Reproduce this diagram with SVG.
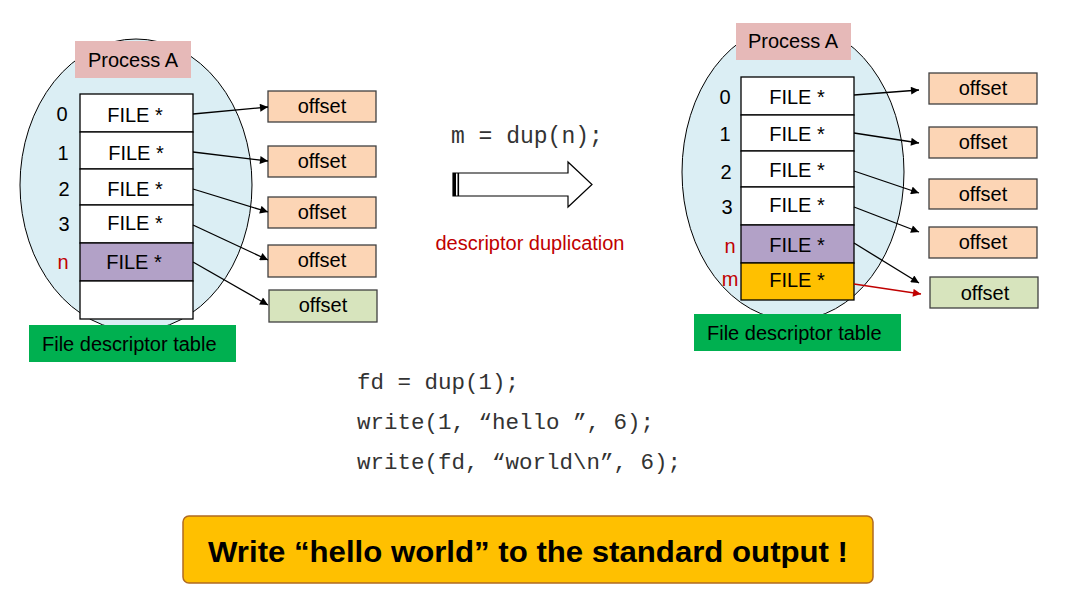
<svg xmlns="http://www.w3.org/2000/svg" width="1066" height="600" viewBox="0 0 1066 600">
<defs>
<marker id="ah" viewBox="0 0 10 10" refX="10" refY="5" markerWidth="10" markerHeight="8" markerUnits="userSpaceOnUse" orient="auto"><path d="M0,0 L10,5 L0,10 z" fill="#000"/></marker>
<marker id="ahr" viewBox="0 0 10 10" refX="10" refY="5" markerWidth="10" markerHeight="8" markerUnits="userSpaceOnUse" orient="auto"><path d="M0,0 L10,5 L0,10 z" fill="#c00000"/></marker>
</defs>
<style>
text{font-family:"Liberation Sans",Arial,sans-serif;font-size:20px;fill:#000}
.c{text-anchor:middle}
.ell{fill:#dbeef4;stroke:#000;stroke-width:1}
.proc{fill:#e6b9b8}
.row{fill:#fff;stroke:#000;stroke-width:1.3}
.pur{fill:#b2a1c7;stroke:#000;stroke-width:1.3}
.yel{fill:#ffc000;stroke:#000;stroke-width:1.3}
.off{fill:#fcd5b5;stroke:#404040;stroke-width:1.3}
.offg{fill:#d7e4bd;stroke:#404040;stroke-width:1.3}
.fdt{fill:#00b050}
.red{fill:#c00000}
.code{font-family:"Liberation Mono","Courier New",monospace;font-size:22.5px;fill:#333}
.ln{stroke:#000;stroke-width:1.3;fill:none;marker-end:url(#ah)}
.lnr{stroke:#c00000;stroke-width:1.3;fill:none;marker-end:url(#ahr)}
</style>
<rect width="1066" height="600" fill="#fff"/>

<!-- Left panel -->
<g id="left-process">
<ellipse class="ell" cx="136" cy="185" rx="116" ry="146"/>
<rect class="proc" x="75" y="41" width="116" height="37"/>
<text class="c" x="133" y="67">Process A</text>
</g>
<g id="left-table">
<rect class="row" x="80" y="94" width="113" height="38"/>
<rect class="row" x="80" y="132" width="113" height="37"/>
<rect class="row" x="80" y="169" width="113" height="36"/>
<rect class="row" x="80" y="205" width="113" height="38"/>
<rect class="pur" x="80" y="243" width="113" height="38"/>
<rect class="row" x="80" y="281" width="113" height="38"/>
<text class="c" x="135" y="122">FILE *</text>
<text class="c" x="136" y="160">FILE *</text>
<text class="c" x="135" y="196">FILE *</text>
<text class="c" x="135" y="230">FILE *</text>
<text class="c" x="134" y="269">FILE *</text>
<text class="c" x="62" y="121">0</text>
<text class="c" x="63" y="160">1</text>
<text class="c" x="64" y="196">2</text>
<text class="c" x="64" y="231">3</text>
<text class="c red" x="63" y="269">n</text>
</g>
<g id="left-fdt">
<rect class="fdt" x="29" y="325" width="207" height="37"/>
<text x="42" y="351">File descriptor table</text>
</g>
<g id="left-offsets">
<rect class="off" x="268" y="91" width="108" height="31"/>
<text class="c" x="322" y="113">offset</text>
<rect class="off" x="268" y="146" width="108" height="31"/>
<text class="c" x="322" y="168">offset</text>
<rect class="off" x="268" y="197" width="108" height="31"/>
<text class="c" x="322" y="219">offset</text>
<rect class="off" x="268" y="245" width="108" height="32"/>
<text class="c" x="322" y="267">offset</text>
<rect class="offg" x="269" y="290" width="108" height="32"/>
<text class="c" x="323" y="312">offset</text>
</g>

<!-- Right panel -->
<g id="right-process">
<ellipse class="ell" cx="793" cy="172" rx="111" ry="148"/>
<rect class="proc" x="736" y="23" width="115" height="37"/>
<text class="c" x="793" y="48">Process A</text>
</g>
<g id="right-table">
<rect class="row" x="741" y="77" width="113" height="38"/>
<rect class="row" x="741" y="115" width="113" height="36"/>
<rect class="row" x="741" y="151" width="113" height="36"/>
<rect class="row" x="741" y="187" width="113" height="38"/>
<rect class="pur" x="741" y="225" width="113" height="38"/>
<rect class="yel" x="741" y="263" width="113" height="37"/>
<text class="c" x="797" y="104">FILE *</text>
<text class="c" x="797" y="141">FILE *</text>
<text class="c" x="797" y="177">FILE *</text>
<text class="c" x="797" y="212">FILE *</text>
<text class="c" x="797" y="252">FILE *</text>
<text class="c" x="797" y="287">FILE *</text>
<text class="c" x="725" y="104">0</text>
<text class="c" x="725" y="141">1</text>
<text class="c" x="726" y="179">2</text>
<text class="c" x="727" y="214">3</text>
<text class="c red" x="730" y="253">n</text>
<text class="c red" x="730" y="286">m</text>
</g>
<g id="right-fdt">
<rect class="fdt" x="694" y="314" width="207" height="37"/>
<text x="707" y="340">File descriptor table</text>
</g>
<g id="right-offsets">
<rect class="off" x="929" y="73" width="108" height="31"/>
<text class="c" x="983" y="95">offset</text>
<rect class="off" x="929" y="127" width="108" height="31"/>
<text class="c" x="983" y="149">offset</text>
<rect class="off" x="929" y="179" width="108" height="30"/>
<text class="c" x="983" y="201">offset</text>
<rect class="off" x="929" y="227" width="108" height="31"/>
<text class="c" x="983" y="249">offset</text>
<rect class="offg" x="930" y="277" width="108" height="31"/>
<text class="c" x="985" y="300">offset</text>
</g>

<!-- Middle -->
<g id="dup-label">
<text class="code" x="451" y="143" style="font-size:23px">m = dup(n);</text>
</g>
<g id="big-arrow">
<path d="M453,173 L568,173 L568,162 L592,184.5 L568,207 L568,196 L453,196 z" fill="#fff" stroke="#000" stroke-width="1.2"/>
<rect x="453" y="173" width="3" height="23" fill="#000"/>
<rect x="457.5" y="173" width="1.6" height="23" fill="#000"/>
</g>
<g id="dup-caption">
<text class="c red" x="530" y="250" style="fill:#c00000">descriptor duplication</text>
</g>
<g id="code">
<text class="code" x="357" y="389">fd = dup(1);</text>
<text class="code" x="357" y="429">write(1, “hello ”, 6);</text>
<text class="code" x="357" y="469">write(fd, “world\n”, 6);</text>
</g>
<g id="result">
<rect x="183" y="516" width="690" height="67" rx="6" fill="#ffc000" stroke="#b06a20" stroke-width="1.5"/>
<text class="c" x="528" y="562" textLength="640" lengthAdjust="spacingAndGlyphs" style="font-size:30px;font-weight:bold">Write “hello world” to the standard output !</text>
</g>

<g id="connectors">
<line class="ln" x1="193" y1="114" x2="268" y2="107"/>
<line class="ln" x1="193" y1="152" x2="268" y2="161"/>
<line class="ln" x1="193" y1="189" x2="268" y2="212"/>
<line class="ln" x1="193" y1="225" x2="268" y2="260"/>
<line class="ln" x1="193" y1="262" x2="268" y2="305"/>
<line class="ln" x1="854" y1="95" x2="919" y2="90"/>
<line class="ln" x1="854" y1="133" x2="919" y2="143"/>
<line class="ln" x1="854" y1="171" x2="919" y2="193"/>
<line class="ln" x1="854" y1="207" x2="919" y2="232"/>
<line class="ln" x1="854" y1="243" x2="919" y2="283"/>
<line class="lnr" x1="854" y1="284" x2="921" y2="294"/>
</g>
</svg>
